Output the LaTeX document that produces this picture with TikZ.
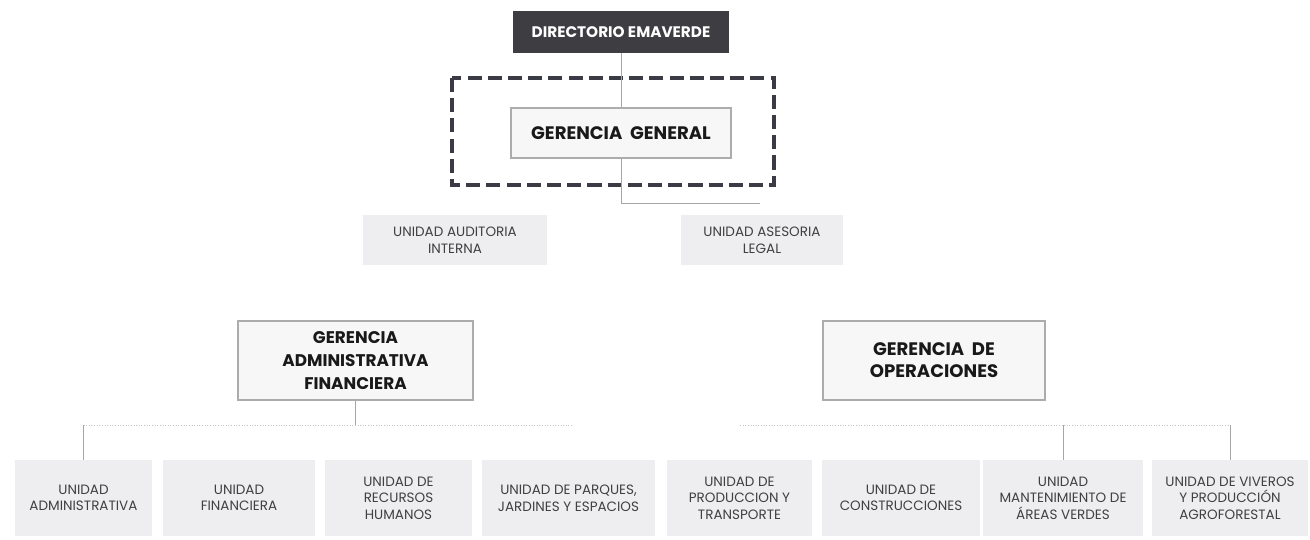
\documentclass[tikz,border=0pt]{standalone}
\usepackage{fontspec}
\setmainfont{Poppins}
\definecolor{dirfill}{HTML}{3E3E42}
\definecolor{gerfill}{HTML}{F7F7F8}
\definecolor{unitfill}{HTML}{EEEEF0}
\definecolor{frame}{HTML}{3A3B45}
\begin{document}
\begin{tikzpicture}[x=0.02cm,y=-0.02cm,
  dirbox/.style={fill=dirfill,text=white,font=\bfseries\fontsize{8.7}{10}\selectfont,
    minimum width=4.32cm,minimum height=0.84cm,inner sep=0pt},
  gerbox/.style={draw=gray!65,fill=gerfill,line width=0.7pt,text=black!90,
    font=\bfseries\fontsize{9.6}{13}\selectfont,align=center,inner sep=0pt},
  unitbox/.style={fill=unitfill,text=black!75,font=\fontsize{7.7}{9.4}\selectfont,
    align=center,inner sep=0pt,minimum height=1.52cm},
  link/.style={draw=gray!70,line width=0.4pt},
  rail/.style={draw=gray!45,line width=0.5pt,densely dotted},
]
\useasboundingbox (0,0) rectangle (1310,539);

\node[dirbox] (dir) at (621,32) {DIRECTORIO EMAVERDE};
\node[gerbox,minimum width=4.4cm,minimum height=1.0cm,font=\bfseries\fontsize{10.3}{13}\selectfont] (gg) at (621,133) {GERENCIA\ \ GENERAL};
\draw[frame,line width=1.8pt,dash pattern=on 8pt off 3.5pt] (452,78) rectangle (774,185);

\node[unitbox,minimum width=3.7cm,minimum height=1.0cm] (aud) at (455,240) {UNIDAD AUDITORIA\\INTERNA};
\node[unitbox,minimum width=3.26cm,minimum height=1.0cm] (leg) at (762,240) {UNIDAD ASESORIA\\LEGAL};

\node[gerbox,minimum width=4.7cm,minimum height=1.58cm] (gaf) at (355.5,360.5) {GERENCIA\\ADMINISTRATIVA\\FINANCIERA};
\node[gerbox,minimum width=4.44cm,minimum height=1.58cm,font=\bfseries\fontsize{10.3}{12.5}\selectfont] (gop) at (934,360.5) {GERENCIA\ \ DE\\OPERACIONES};

\node[unitbox,minimum width=2.74cm] (u1) at (83.5,498) {UNIDAD\\ADMINISTRATIVA};
\node[unitbox,minimum width=3.04cm] (u2) at (239,498) {UNIDAD\\FINANCIERA};
\node[unitbox,minimum width=2.94cm] (u3) at (398.5,498) {UNIDAD DE\\RECURSOS\\HUMANOS};
\node[unitbox,minimum width=3.46cm] (u4) at (568.5,498) {UNIDAD DE PARQUES,\\JARDINES Y ESPACIOS};
\node[unitbox,minimum width=2.9cm] (u5) at (739.5,498) {UNIDAD DE\\PRODUCCION Y\\TRANSPORTE};
\node[unitbox,minimum width=3.16cm] (u6) at (901,498) {UNIDAD DE\\CONSTRUCCIONES};
\node[unitbox,minimum width=3.2cm] (u7) at (1063,498) {UNIDAD\\MANTENIMIENTO DE\\ÁREAS VERDES};
\node[unitbox,minimum width=3.12cm] (u8) at (1230,498) {UNIDAD DE VIVEROS\\Y PRODUCCIÓN\\AGROFORESTAL};

\coordinate (ggrail) at (760,203);
\coordinate (leftend) at (572,425);
\coordinate (rightstart) at (740,425);

\draw[link] (dir) -- (gg);
\draw[link] (gg) |- (ggrail);
\draw[link] (gaf) -- (gaf.south |- leftend);
\draw[rail] (u1.north |- leftend) -- (leftend);
\draw[link] (u1.north |- leftend) -- (u1);
\draw[rail] (rightstart) -- (rightstart -| u8.north);
\draw[link] (u7.north |- rightstart) -- (u7);
\draw[link] (u8.north |- rightstart) -- (u8);
\end{tikzpicture}
\end{document}
